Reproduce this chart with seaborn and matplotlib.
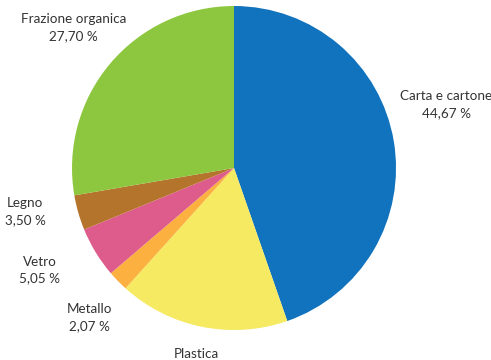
import seaborn as sns
import matplotlib.pyplot as plt

# raccolta differenziata - composizione (%)
categorie = ["Carta e cartone", "Plastica", "Metallo", "Vetro", "Legno", "Frazione organica"]
valori = [44.67, 17.01, 2.07, 5.05, 3.50, 27.70]
colori = ["#1172BD", "#F5EA62", "#FBB040", "#DD5C8B", "#B5742B", "#8DC63F"]
# posizione delle etichette (unita' del raggio)
pos_etichette = [(1.31, 0.39), (-0.235, -1.20), (-0.895, -0.925),
                 (-1.20, -0.63), (-1.29, -0.27), (-0.99, 0.865)]

sns.set_theme(style="white")
plt.rcParams['font.family'] = ['Lato', 'DejaVu Sans']

fig = plt.figure(figsize=(4.91, 3.60), dpi=100)
ax = fig.add_axes([0.1466, 0.0833, 0.66, 0.9])

wedges, _ = ax.pie(valori, colors=sns.color_palette(colori), startangle=90,
                   counterclock=False, radius=1.0,
                   wedgeprops=dict(linewidth=0))

for cat, v, (x, y) in zip(categorie, valori, pos_etichette):
    testo = cat + "\n" + f"{v:.2f}".replace(".", ",") + " %"
    ax.text(x, y, testo, ha="center", va="center", fontsize=9.7,
            color="#333333", linespacing=1.5, clip_on=False)

ax.set_xlim(-1, 1)
ax.set_ylim(-1, 1)
ax.set_aspect("equal")
ax.axis("off")

fig.savefig("out.png", dpi=100)
